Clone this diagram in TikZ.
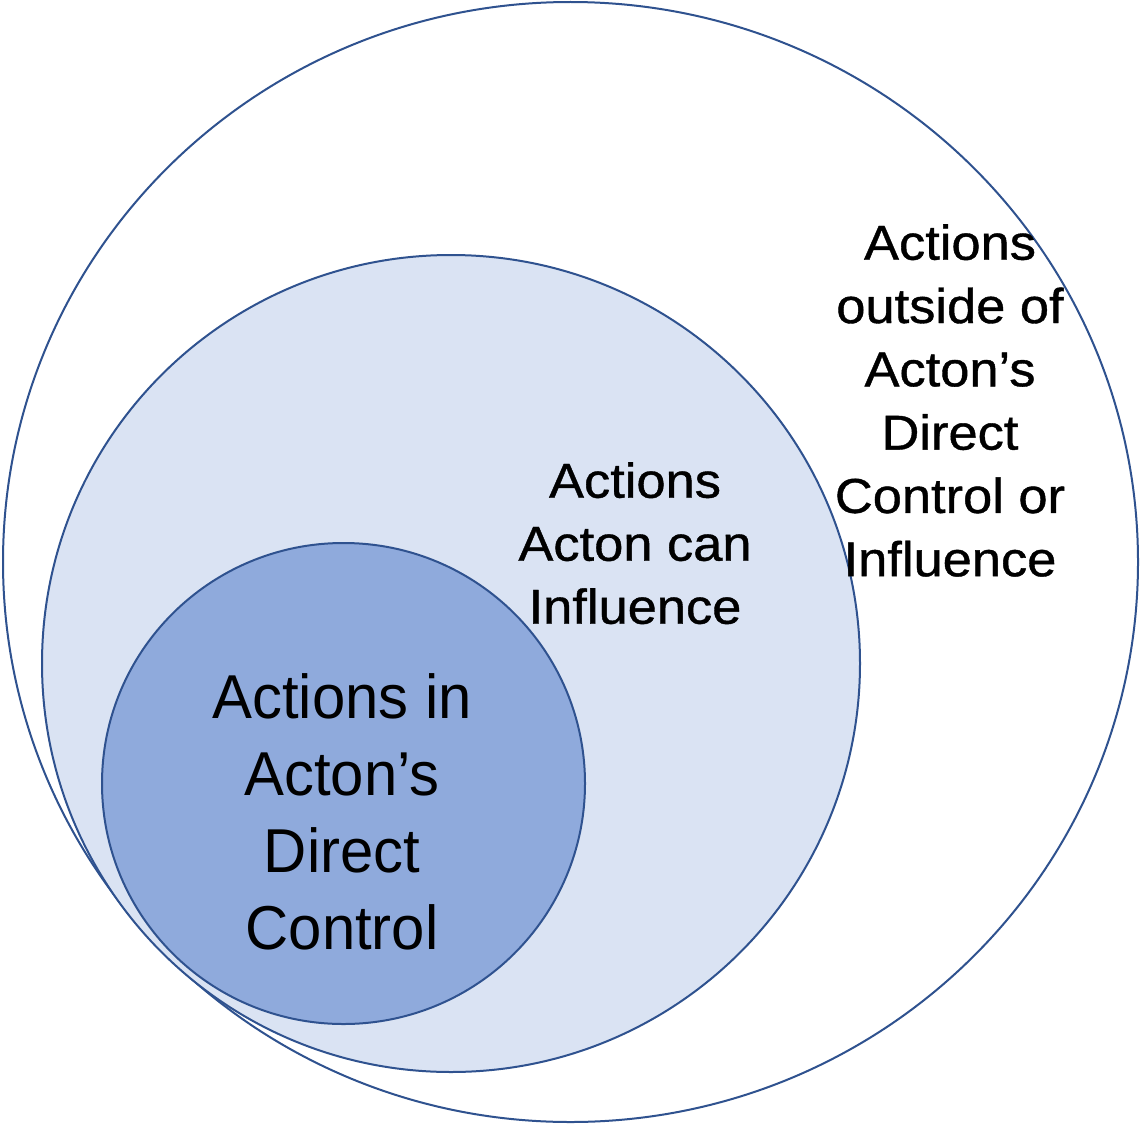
\documentclass[tikz,border=0pt]{standalone}
\usepackage{fontspec}
\setmainfont{Liberation Sans}
\newfontfamily\wideface[FakeStretch=1.07,FakeBold=0.8]{Liberation Sans}
\newfontfamily\narrowface[FakeStretch=0.965]{Liberation Sans}
\definecolor{rim}{HTML}{2F528F}
\definecolor{midfill}{HTML}{DAE3F3}
\definecolor{infill}{HTML}{8FAADC}
\begin{document}
\begin{tikzpicture}[x=1pt,y=-1pt,
  ring/.style={draw=rim,line width=2pt},
  lbl/.style={align=center,anchor=north,inner sep=0pt,text=black}]
\useasboundingbox (0,0) rectangle (1140,1124);
\draw[ring,fill=white] (570.5,562) ellipse [x radius=567.5,y radius=560];
\draw[ring,fill=midfill] (451,663.5) ellipse [x radius=409,y radius=408.5];
\draw[ring,fill=infill] (343.5,783.5) ellipse [x radius=241.5,y radius=240.5];
\node[lbl,font=\wideface\fontsize{49}{63.3}\selectfont] (outerlbl) at (950,224)
  {Actions\\outside of\\Acton’s\\Direct\\Control or\\Influence};
\node[lbl,font=\wideface\fontsize{49}{63}\selectfont] (midlbl) at (635,462)
  {Actions\\Acton can\\Influence};
\node[lbl,font=\narrowface\fontsize{62}{77}\selectfont] (innerlbl) at (342,673)
  {Actions in\\Acton’s\\Direct\\Control};
\end{tikzpicture}
\end{document}
